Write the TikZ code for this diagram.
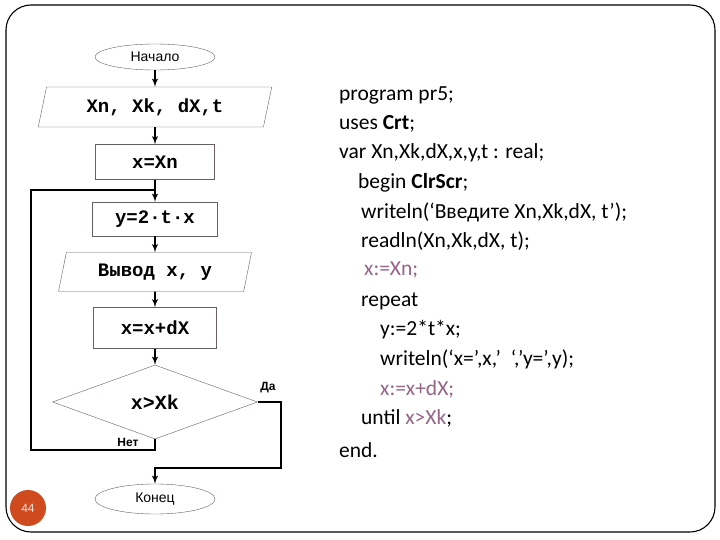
\documentclass[tikz,border=0pt]{standalone}
\usepackage{fontspec}
\setmainfont{Carlito}
\newfontfamily\flowmono{Liberation Mono}
\newfontfamily\flowsans{Liberation Sans}
\usetikzlibrary{shapes.geometric,arrows}
\definecolor{shapeline}{RGB}{105,95,95}
\definecolor{codemark}{RGB}{150,100,135}
\definecolor{pagedot}{RGB}{208,74,32}
\tikzstyle{block} = [rectangle, draw=shapeline, fill=white, inner sep=0pt, font=\flowmono\bfseries\fontsize{19}{22}\selectfont]
\tikzstyle{io} = [trapezium, trapezium left angle=73, trapezium right angle=107, trapezium stretches=true, draw=shapeline, fill=white, inner sep=0pt, font=\flowmono\bfseries\fontsize{19}{22}\selectfont]
\tikzstyle{term} = [ellipse, draw=shapeline, fill=white, inner sep=0pt, font=\flowsans\fontsize{14}{16}\selectfont]
\tikzstyle{decision} = [diamond, draw=shapeline, fill=white, inner sep=0pt, aspect=2.77, font=\flowmono\bfseries\fontsize{20}{22}\selectfont]
\tikzstyle{answer} = [inner sep=0pt, font=\flowsans\bfseries\fontsize{12}{14}\selectfont]
\tikzstyle{line} = [draw, line width=1.8pt, -latex']
\tikzstyle{code} = [anchor=west, inner sep=0pt, font=\fontsize{21.5}{25}\selectfont]

\begin{document}
\begin{tikzpicture}[x=1pt,y=-1pt]
\useasboundingbox (0,0) rectangle (720,540);
\draw [line width=1.1pt, rounded corners=25pt] (6,5) rectangle (715,532);
\node [circle, fill=pagedot, minimum size=36pt, inner sep=0pt, text=white!85!pagedot, font=\flowsans\fontsize{12}{14}\selectfont] (page) at (28,508) {44};

% flowchart
\node [term, minimum width=120pt, minimum height=26pt] (start) at (155,57) {Начало};
\node [io, minimum width=234pt, minimum height=40pt] (input) at (155,107) {Xn, Xk, dX,t};
\node [block, minimum width=119pt, minimum height=35pt] (init) at (155,162) {x=Xn};
\node [block, minimum width=125pt, minimum height=34pt] (calc) at (155,219) {y=2·t·x};
\node [io, minimum width=193pt, minimum height=39pt] (output) at (155,272) {Вывод x, y};
\node [block, minimum width=123pt, minimum height=41pt] (stepbox) at (155,328) {x=x+dX};
\node [decision, minimum width=205pt, minimum height=74pt] (check) at (155,402) {x>Xk};
\node [term, minimum width=120pt, minimum height=30pt] (stop) at (155,499) {Конец};
\node [answer] (yes) at (268,388) {Да};
\node [answer] (no) at (128,442) {Нет};
\coordinate (loopL) at (31,190);
\coordinate (join) at (155,190);
\coordinate (yesR) at (281,468);

\path [line] (start) -- (input);
\path [line] (input) -- (init);
\path [line] (init) -- (calc);
\path [line] (calc) -- (output);
\path [line] (output) -- (stepbox);
\path [line] (stepbox) -- (check);
\draw [line width=1.8pt] (check.south) -- ++(0,11) -| (loopL) -- (join);
\path [line] (check.east) -| (yesR) -| (stop.north);

% program text
\node [code] (prog) at (339,95) {program pr5;};
\node [code] (uses) at (339,124) {uses \textbf{Crt};};
\node [code] (vars) at (339,153) {var Xn,Xk,dX,x,y,t : real;};
\node [code] (begin) at (358,183) {begin \textbf{ClrScr};};
\node [code] (ask) at (361,212) {writeln(‘Введите Xn,Xk,dX, t’);};
\node [code] (read) at (361,241) {readln(Xn,Xk,dX, t);};
\node [code, text=codemark] (first) at (364,270) {x:=Xn;};
\node [code] (rep) at (361,301) {repeat};
\node [code] (ycalc) at (380,330) {y:=2*t*x;};
\node [code] (show) at (380,359) {writeln(‘x=’,x,’\ \ ‘,’y=’,y);};
\node [code, text=codemark] (next) at (380,389) {x:=x+dX;};
\node [code] (until) at (361,418) {until \textcolor{codemark}{x>Xk};};
\node [code] (fin) at (339,450) {end.};
\end{tikzpicture}
\end{document}
